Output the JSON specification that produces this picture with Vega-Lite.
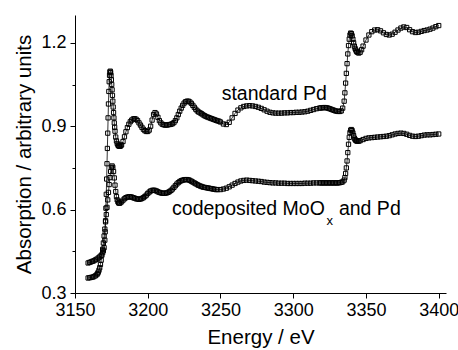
{
"$schema":"https://vega.github.io/schema/vega-lite/v6.json",
"width":371,"height":278,
"autosize":{"type":"none"},
"padding":{"left":75,"top":15,"right":12,"bottom":57},
"background":"white",
"config":{"view":{"stroke":null},"font":"Liberation Sans",
"axis":{"grid":false,"domainColor":"black","domainWidth":1,"tickColor":"black","tickWidth":1,"labelColor":"black","titleColor":"black","labelFont":"Liberation Sans","titleFont":"Liberation Sans","labelFontSize":18,"titleFontSize":20.5,"titleFontWeight":"normal","labelFlush":false,"labelOverlap":false}},
"datasets":{
"spectra":[
{"s":"p","e":3159,"a":0.408},{"s":"p","e":3160,"a":0.41},{"s":"p","e":3161,"a":0.412},{"s":"p","e":3162,"a":0.414},{"s":"p","e":3163,"a":0.416},{"s":"p","e":3164,"a":0.419},{"s":"p","e":3165,"a":0.422},{"s":"p","e":3166,"a":0.426},{"s":"p","e":3167,"a":0.43},{"s":"p","e":3168,"a":0.436},{"s":"p","e":3169,"a":0.445},{"s":"p","e":3169.5,"a":0.452},{"s":"p","e":3170,"a":0.463},{"s":"p","e":3170.5,"a":0.49},{"s":"p","e":3170.75,"a":0.52},{"s":"p","e":3171,"a":0.56},{"s":"p","e":3171.25,"a":0.605},{"s":"p","e":3171.5,"a":0.655},{"s":"p","e":3171.75,"a":0.71},{"s":"p","e":3172,"a":0.765},{"s":"p","e":3172.25,"a":0.82},{"s":"p","e":3172.5,"a":0.875},{"s":"p","e":3172.75,"a":0.93},{"s":"p","e":3173,"a":0.98},{"s":"p","e":3173.25,"a":1.025},{"s":"p","e":3173.5,"a":1.06},{"s":"p","e":3173.75,"a":1.083},{"s":"p","e":3174,"a":1.095},{"s":"p","e":3174.25,"a":1.098},{"s":"p","e":3174.5,"a":1.093},{"s":"p","e":3174.75,"a":1.082},{"s":"p","e":3175,"a":1.067},{"s":"p","e":3175.25,"a":1.05},{"s":"p","e":3175.5,"a":1.031},{"s":"p","e":3175.75,"a":1.011},{"s":"p","e":3176,"a":0.99},{"s":"p","e":3176.25,"a":0.969},{"s":"p","e":3176.5,"a":0.949},{"s":"p","e":3176.75,"a":0.93},{"s":"p","e":3177,"a":0.912},{"s":"p","e":3177.25,"a":0.896},{"s":"p","e":3177.5,"a":0.882},{"s":"p","e":3178,"a":0.861},{"s":"p","e":3178.5,"a":0.847},{"s":"p","e":3179,"a":0.838},{"s":"p","e":3179.5,"a":0.832},{"s":"p","e":3180,"a":0.829},{"s":"p","e":3180.5,"a":0.828},{"s":"p","e":3181,"a":0.828},{"s":"p","e":3181.5,"a":0.83},{"s":"p","e":3182,"a":0.833},{"s":"p","e":3183,"a":0.845},{"s":"p","e":3184,"a":0.862},{"s":"p","e":3185,"a":0.88},{"s":"p","e":3186,"a":0.895},{"s":"p","e":3187,"a":0.907},{"s":"p","e":3188,"a":0.916},{"s":"p","e":3189,"a":0.922},{"s":"p","e":3190,"a":0.926},{"s":"p","e":3191,"a":0.927},{"s":"p","e":3192,"a":0.925},{"s":"p","e":3193,"a":0.92},{"s":"p","e":3194,"a":0.912},{"s":"p","e":3195,"a":0.904},{"s":"p","e":3196,"a":0.896},{"s":"p","e":3197,"a":0.889},{"s":"p","e":3198,"a":0.884},{"s":"p","e":3199,"a":0.881},{"s":"p","e":3200,"a":0.881},{"s":"p","e":3201,"a":0.886},{"s":"p","e":3202,"a":0.9},{"s":"p","e":3203,"a":0.922},{"s":"p","e":3204,"a":0.942},{"s":"p","e":3205,"a":0.949},{"s":"p","e":3206,"a":0.944},{"s":"p","e":3207,"a":0.932},{"s":"p","e":3208,"a":0.92},{"s":"p","e":3209,"a":0.912},{"s":"p","e":3210,"a":0.907},{"s":"p","e":3211,"a":0.905},{"s":"p","e":3212,"a":0.904},{"s":"p","e":3213,"a":0.904},{"s":"p","e":3214,"a":0.905},{"s":"p","e":3215,"a":0.906},{"s":"p","e":3216,"a":0.907},{"s":"p","e":3217,"a":0.909},{"s":"p","e":3218,"a":0.913},{"s":"p","e":3219,"a":0.92},{"s":"p","e":3220,"a":0.93},{"s":"p","e":3221,"a":0.942},{"s":"p","e":3222,"a":0.954},{"s":"p","e":3223,"a":0.965},{"s":"p","e":3224,"a":0.975},{"s":"p","e":3225,"a":0.983},{"s":"p","e":3226,"a":0.988},{"s":"p","e":3227,"a":0.99},{"s":"p","e":3228,"a":0.99},{"s":"p","e":3229,"a":0.987},{"s":"p","e":3230,"a":0.982},{"s":"p","e":3231,"a":0.975},{"s":"p","e":3232,"a":0.968},{"s":"p","e":3233,"a":0.961},{"s":"p","e":3234,"a":0.955},{"s":"p","e":3235,"a":0.951},{"s":"p","e":3236,"a":0.948},{"s":"p","e":3237,"a":0.945},{"s":"p","e":3238,"a":0.941},{"s":"p","e":3239,"a":0.938},{"s":"p","e":3240,"a":0.935},{"s":"p","e":3241,"a":0.933},{"s":"p","e":3242,"a":0.931},{"s":"p","e":3243,"a":0.929},{"s":"p","e":3244,"a":0.927},{"s":"p","e":3245,"a":0.925},{"s":"p","e":3246,"a":0.923},{"s":"p","e":3247,"a":0.921},{"s":"p","e":3248,"a":0.919},{"s":"p","e":3249,"a":0.918},{"s":"p","e":3250,"a":0.915},{"s":"p","e":3252,"a":0.908},{"s":"p","e":3254,"a":0.906},{"s":"p","e":3256,"a":0.914},{"s":"p","e":3258,"a":0.93},{"s":"p","e":3260,"a":0.946},{"s":"p","e":3262,"a":0.958},{"s":"p","e":3264,"a":0.966},{"s":"p","e":3266,"a":0.971},{"s":"p","e":3268,"a":0.973},{"s":"p","e":3270,"a":0.974},{"s":"p","e":3272,"a":0.973},{"s":"p","e":3274,"a":0.971},{"s":"p","e":3276,"a":0.968},{"s":"p","e":3278,"a":0.964},{"s":"p","e":3280,"a":0.959},{"s":"p","e":3282,"a":0.954},{"s":"p","e":3284,"a":0.95},{"s":"p","e":3286,"a":0.948},{"s":"p","e":3288,"a":0.947},{"s":"p","e":3290,"a":0.947},{"s":"p","e":3292,"a":0.947},{"s":"p","e":3294,"a":0.948},{"s":"p","e":3296,"a":0.948},{"s":"p","e":3298,"a":0.949},{"s":"p","e":3300,"a":0.949},{"s":"p","e":3302,"a":0.95},{"s":"p","e":3304,"a":0.95},{"s":"p","e":3306,"a":0.951},{"s":"p","e":3308,"a":0.952},{"s":"p","e":3310,"a":0.954},{"s":"p","e":3312,"a":0.957},{"s":"p","e":3314,"a":0.96},{"s":"p","e":3316,"a":0.963},{"s":"p","e":3318,"a":0.965},{"s":"p","e":3319,"a":0.966},{"s":"p","e":3320,"a":0.966},{"s":"p","e":3321,"a":0.967},{"s":"p","e":3322,"a":0.967},{"s":"p","e":3323,"a":0.966},{"s":"p","e":3324,"a":0.965},{"s":"p","e":3325,"a":0.963},{"s":"p","e":3326,"a":0.961},{"s":"p","e":3327,"a":0.959},{"s":"p","e":3328,"a":0.957},{"s":"p","e":3329,"a":0.955},{"s":"p","e":3330,"a":0.954},{"s":"p","e":3331,"a":0.953},{"s":"p","e":3332,"a":0.953},{"s":"p","e":3333,"a":0.955},{"s":"p","e":3334,"a":0.965},{"s":"p","e":3335,"a":0.99},{"s":"p","e":3335.5,"a":1.02},{"s":"p","e":3336,"a":1.055},{"s":"p","e":3336.5,"a":1.09},{"s":"p","e":3337,"a":1.125},{"s":"p","e":3337.5,"a":1.16},{"s":"p","e":3338,"a":1.19},{"s":"p","e":3338.5,"a":1.213},{"s":"p","e":3339,"a":1.228},{"s":"p","e":3339.5,"a":1.235},{"s":"p","e":3340,"a":1.233},{"s":"p","e":3340.5,"a":1.225},{"s":"p","e":3341,"a":1.213},{"s":"p","e":3341.5,"a":1.2},{"s":"p","e":3342,"a":1.188},{"s":"p","e":3342.5,"a":1.18},{"s":"p","e":3343,"a":1.174},{"s":"p","e":3343.5,"a":1.169},{"s":"p","e":3344,"a":1.166},{"s":"p","e":3345,"a":1.163},{"s":"p","e":3346,"a":1.166},{"s":"p","e":3347,"a":1.175},{"s":"p","e":3348,"a":1.188},{"s":"p","e":3350,"a":1.21},{"s":"p","e":3352,"a":1.228},{"s":"p","e":3354,"a":1.24},{"s":"p","e":3356,"a":1.246},{"s":"p","e":3358,"a":1.247},{"s":"p","e":3360,"a":1.243},{"s":"p","e":3362,"a":1.236},{"s":"p","e":3364,"a":1.23},{"s":"p","e":3366,"a":1.228},{"s":"p","e":3368,"a":1.231},{"s":"p","e":3370,"a":1.238},{"s":"p","e":3372,"a":1.246},{"s":"p","e":3374,"a":1.253},{"s":"p","e":3376,"a":1.257},{"s":"p","e":3378,"a":1.255},{"s":"p","e":3380,"a":1.247},{"s":"p","e":3382,"a":1.24},{"s":"p","e":3384,"a":1.237},{"s":"p","e":3386,"a":1.238},{"s":"p","e":3388,"a":1.241},{"s":"p","e":3390,"a":1.244},{"s":"p","e":3392,"a":1.246},{"s":"p","e":3394,"a":1.249},{"s":"p","e":3396,"a":1.253},{"s":"p","e":3398,"a":1.258},{"s":"p","e":3400,"a":1.262},
{"s":"m","e":3159,"a":0.354},{"s":"m","e":3160,"a":0.355},{"s":"m","e":3161,"a":0.356},{"s":"m","e":3162,"a":0.357},{"s":"m","e":3163,"a":0.359},{"s":"m","e":3164,"a":0.362},{"s":"m","e":3165,"a":0.366},{"s":"m","e":3165.5,"a":0.37},{"s":"m","e":3166,"a":0.375},{"s":"m","e":3166.5,"a":0.382},{"s":"m","e":3167,"a":0.391},{"s":"m","e":3167.5,"a":0.403},{"s":"m","e":3168,"a":0.418},{"s":"m","e":3168.5,"a":0.436},{"s":"m","e":3169,"a":0.457},{"s":"m","e":3169.5,"a":0.48},{"s":"m","e":3170,"a":0.505},{"s":"m","e":3170.5,"a":0.53},{"s":"m","e":3171,"a":0.556},{"s":"m","e":3171.5,"a":0.582},{"s":"m","e":3172,"a":0.608},{"s":"m","e":3172.5,"a":0.635},{"s":"m","e":3173,"a":0.662},{"s":"m","e":3173.5,"a":0.69},{"s":"m","e":3174,"a":0.715},{"s":"m","e":3174.5,"a":0.737},{"s":"m","e":3175,"a":0.752},{"s":"m","e":3175.5,"a":0.757},{"s":"m","e":3176,"a":0.752},{"s":"m","e":3176.5,"a":0.737},{"s":"m","e":3177,"a":0.714},{"s":"m","e":3177.5,"a":0.688},{"s":"m","e":3178,"a":0.665},{"s":"m","e":3178.5,"a":0.647},{"s":"m","e":3179,"a":0.635},{"s":"m","e":3179.5,"a":0.628},{"s":"m","e":3180,"a":0.624},{"s":"m","e":3180.5,"a":0.623},{"s":"m","e":3181,"a":0.624},{"s":"m","e":3182,"a":0.628},{"s":"m","e":3183,"a":0.634},{"s":"m","e":3184,"a":0.639},{"s":"m","e":3185,"a":0.643},{"s":"m","e":3186,"a":0.645},{"s":"m","e":3187,"a":0.646},{"s":"m","e":3188,"a":0.646},{"s":"m","e":3189,"a":0.645},{"s":"m","e":3190,"a":0.643},{"s":"m","e":3191,"a":0.641},{"s":"m","e":3192,"a":0.639},{"s":"m","e":3193,"a":0.638},{"s":"m","e":3194,"a":0.637},{"s":"m","e":3195,"a":0.638},{"s":"m","e":3196,"a":0.64},{"s":"m","e":3197,"a":0.643},{"s":"m","e":3198,"a":0.647},{"s":"m","e":3199,"a":0.652},{"s":"m","e":3200,"a":0.658},{"s":"m","e":3201,"a":0.663},{"s":"m","e":3202,"a":0.667},{"s":"m","e":3203,"a":0.669},{"s":"m","e":3204,"a":0.67},{"s":"m","e":3205,"a":0.669},{"s":"m","e":3206,"a":0.667},{"s":"m","e":3207,"a":0.664},{"s":"m","e":3208,"a":0.662},{"s":"m","e":3209,"a":0.66},{"s":"m","e":3210,"a":0.659},{"s":"m","e":3211,"a":0.659},{"s":"m","e":3212,"a":0.659},{"s":"m","e":3213,"a":0.66},{"s":"m","e":3214,"a":0.662},{"s":"m","e":3215,"a":0.665},{"s":"m","e":3216,"a":0.669},{"s":"m","e":3217,"a":0.674},{"s":"m","e":3218,"a":0.68},{"s":"m","e":3219,"a":0.686},{"s":"m","e":3220,"a":0.692},{"s":"m","e":3221,"a":0.697},{"s":"m","e":3222,"a":0.701},{"s":"m","e":3223,"a":0.704},{"s":"m","e":3224,"a":0.706},{"s":"m","e":3225,"a":0.707},{"s":"m","e":3226,"a":0.708},{"s":"m","e":3227,"a":0.708},{"s":"m","e":3228,"a":0.707},{"s":"m","e":3229,"a":0.705},{"s":"m","e":3230,"a":0.702},{"s":"m","e":3231,"a":0.699},{"s":"m","e":3232,"a":0.696},{"s":"m","e":3233,"a":0.693},{"s":"m","e":3234,"a":0.69},{"s":"m","e":3235,"a":0.687},{"s":"m","e":3236,"a":0.685},{"s":"m","e":3237,"a":0.683},{"s":"m","e":3238,"a":0.681},{"s":"m","e":3239,"a":0.68},{"s":"m","e":3240,"a":0.679},{"s":"m","e":3241,"a":0.678},{"s":"m","e":3242,"a":0.677},{"s":"m","e":3243,"a":0.676},{"s":"m","e":3244,"a":0.675},{"s":"m","e":3245,"a":0.674},{"s":"m","e":3246,"a":0.673},{"s":"m","e":3247,"a":0.672},{"s":"m","e":3248,"a":0.672},{"s":"m","e":3250,"a":0.672},{"s":"m","e":3252,"a":0.674},{"s":"m","e":3254,"a":0.677},{"s":"m","e":3256,"a":0.682},{"s":"m","e":3258,"a":0.688},{"s":"m","e":3260,"a":0.694},{"s":"m","e":3262,"a":0.699},{"s":"m","e":3264,"a":0.703},{"s":"m","e":3266,"a":0.705},{"s":"m","e":3268,"a":0.706},{"s":"m","e":3270,"a":0.705},{"s":"m","e":3272,"a":0.704},{"s":"m","e":3274,"a":0.703},{"s":"m","e":3276,"a":0.702},{"s":"m","e":3278,"a":0.701},{"s":"m","e":3280,"a":0.699},{"s":"m","e":3282,"a":0.698},{"s":"m","e":3284,"a":0.697},{"s":"m","e":3286,"a":0.696},{"s":"m","e":3288,"a":0.696},{"s":"m","e":3290,"a":0.695},{"s":"m","e":3292,"a":0.695},{"s":"m","e":3294,"a":0.695},{"s":"m","e":3296,"a":0.694},{"s":"m","e":3298,"a":0.694},{"s":"m","e":3300,"a":0.694},{"s":"m","e":3302,"a":0.694},{"s":"m","e":3304,"a":0.694},{"s":"m","e":3306,"a":0.694},{"s":"m","e":3308,"a":0.695},{"s":"m","e":3310,"a":0.695},{"s":"m","e":3312,"a":0.695},{"s":"m","e":3314,"a":0.696},{"s":"m","e":3316,"a":0.696},{"s":"m","e":3318,"a":0.696},{"s":"m","e":3319,"a":0.696},{"s":"m","e":3320,"a":0.696},{"s":"m","e":3321,"a":0.696},{"s":"m","e":3322,"a":0.696},{"s":"m","e":3323,"a":0.696},{"s":"m","e":3324,"a":0.696},{"s":"m","e":3325,"a":0.696},{"s":"m","e":3326,"a":0.696},{"s":"m","e":3327,"a":0.696},{"s":"m","e":3328,"a":0.696},{"s":"m","e":3329,"a":0.696},{"s":"m","e":3330,"a":0.696},{"s":"m","e":3331,"a":0.696},{"s":"m","e":3332,"a":0.697},{"s":"m","e":3333,"a":0.698},{"s":"m","e":3334,"a":0.7},{"s":"m","e":3335,"a":0.706},{"s":"m","e":3335.5,"a":0.715},{"s":"m","e":3336,"a":0.73},{"s":"m","e":3336.5,"a":0.75},{"s":"m","e":3337,"a":0.775},{"s":"m","e":3337.5,"a":0.805},{"s":"m","e":3338,"a":0.835},{"s":"m","e":3338.5,"a":0.86},{"s":"m","e":3339,"a":0.877},{"s":"m","e":3339.5,"a":0.886},{"s":"m","e":3340,"a":0.888},{"s":"m","e":3340.5,"a":0.884},{"s":"m","e":3341,"a":0.876},{"s":"m","e":3341.5,"a":0.866},{"s":"m","e":3342,"a":0.857},{"s":"m","e":3342.5,"a":0.852},{"s":"m","e":3343,"a":0.849},{"s":"m","e":3343.5,"a":0.847},{"s":"m","e":3344,"a":0.846},{"s":"m","e":3345,"a":0.846},{"s":"m","e":3346,"a":0.848},{"s":"m","e":3348,"a":0.852},{"s":"m","e":3350,"a":0.856},{"s":"m","e":3352,"a":0.858},{"s":"m","e":3354,"a":0.859},{"s":"m","e":3356,"a":0.86},{"s":"m","e":3358,"a":0.861},{"s":"m","e":3360,"a":0.862},{"s":"m","e":3362,"a":0.863},{"s":"m","e":3364,"a":0.864},{"s":"m","e":3366,"a":0.866},{"s":"m","e":3368,"a":0.869},{"s":"m","e":3370,"a":0.872},{"s":"m","e":3372,"a":0.874},{"s":"m","e":3374,"a":0.875},{"s":"m","e":3376,"a":0.874},{"s":"m","e":3378,"a":0.871},{"s":"m","e":3380,"a":0.867},{"s":"m","e":3382,"a":0.864},{"s":"m","e":3384,"a":0.863},{"s":"m","e":3386,"a":0.864},{"s":"m","e":3388,"a":0.866},{"s":"m","e":3390,"a":0.868},{"s":"m","e":3392,"a":0.869},{"s":"m","e":3394,"a":0.869},{"s":"m","e":3396,"a":0.87},{"s":"m","e":3398,"a":0.871},{"s":"m","e":3400,"a":0.872}
],
"labels":[
{"e":3250.8,"a":0.9925,"t":"standard Pd"},
{"e":3216.7,"a":0.582,"t":"codeposited MoO"},
{"e":3331.4,"a":0.582,"t":"and Pd"}
],
"subs":[
{"e":3322.9,"a":0.546,"t":"x"}
]
},
"layer":[
{"data":{"name":"spectra"},
"mark":{"type":"line","color":"black","strokeWidth":0.8},
"encoding":{
"x":{"field":"e","type":"quantitative","scale":{"domain":[3150,3405],"nice":false,"zero":false},
"axis":{"title":"Energy / eV","values":[3150,3175,3200,3225,3250,3275,3300,3325,3350,3375,3400],"format":"d","labelExpr":"datum.value % 50 === 0 ? datum.label : ''","tickSize":{"condition":{"test":"datum.value % 50 !== 0","value":3},"value":5},"labelPadding":3,"titlePadding":8}},
"y":{"field":"a","type":"quantitative","scale":{"domain":[0.3,1.3],"nice":false,"zero":false},
"axis":{"title":"Absorption / arbitrary units","values":[0.3,0.45,0.6,0.75,0.9,1.05,1.2],"format":".1f","labelExpr":"round(datum.value*100) % 30 === 0 ? datum.label : ''","tickSize":{"condition":{"test":"round(datum.value*100) % 30 !== 0","value":3},"value":5},"labelPadding":4,"titlePadding":6}},
"detail":{"field":"s"}}},
{"data":{"name":"spectra"},
"mark":{"type":"point","shape":"square","filled":false,"stroke":"black","strokeWidth":1,"size":18,"opacity":1},
"encoding":{"x":{"field":"e","type":"quantitative"},"y":{"field":"a","type":"quantitative"}}},
{"data":{"name":"labels"},
"mark":{"type":"text","align":"left","baseline":"alphabetic","fontSize":19.5,"font":"Liberation Sans","color":"black"},
"encoding":{"x":{"field":"e","type":"quantitative"},"y":{"field":"a","type":"quantitative"},"text":{"field":"t"}}},
{"data":{"name":"subs"},
"mark":{"type":"text","align":"left","baseline":"alphabetic","fontSize":13,"font":"Liberation Sans","color":"black"},
"encoding":{"x":{"field":"e","type":"quantitative"},"y":{"field":"a","type":"quantitative"},"text":{"field":"t"}}}
]
}
